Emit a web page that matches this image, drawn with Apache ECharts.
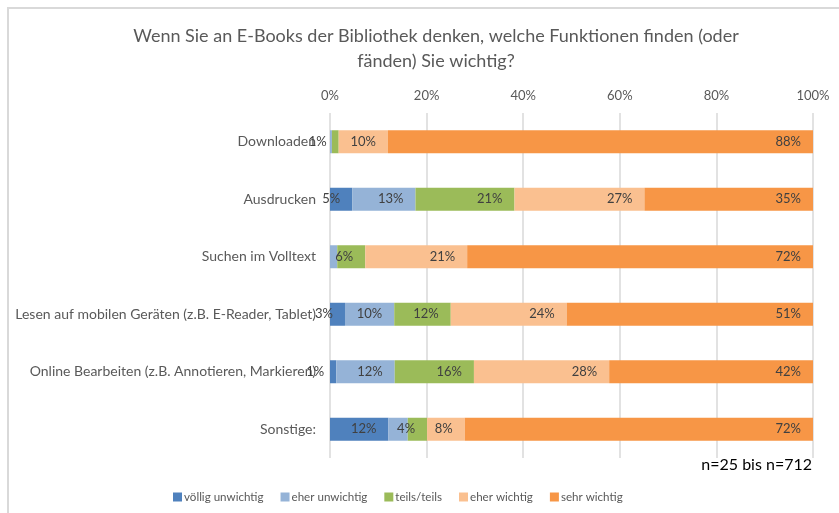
<!DOCTYPE html>
<html>
<head>
<meta charset="utf-8">
<script src="https://cdn.jsdelivr.net/npm/echarts@6/dist/echarts.min.js"></script>
<style>
  html, body { margin: 0; padding: 0; background: #fff; }
  #chart { width: 839px; height: 513px; }
</style>
</head>
<body>
<div id="chart"></div>
<script>
// Kategorien (von oben nach unten)
const categories = [
  'Downloaden',
  'Ausdrucken',
  'Suchen im Volltext',
  'Lesen auf mobilen Geräten (z.B. E-Reader, Tablet)',
  'Online Bearbeiten (z.B. Annotieren, Markieren)',
  'Sonstige:'
];
const seriesNames = ['völlig unwichtig', 'eher unwichtig', 'teils/teils', 'eher wichtig', 'sehr wichtig'];
const colors = ['#4F81BD', '#95B3D7', '#9BBB59', '#FAC090', '#F79646'];

// Anteile in %
const voelligUnwichtig = [0, 4.6, 0, 3.1, 1.3, 12.1];
const eherUnwichtig = [0.4, 13.1, 1.5, 10.2, 12.1, 4.0];
const teilsTeils = [1.4, 20.5, 5.8, 11.7, 16.4, 4.0];
const eherWichtig = [10.2, 26.9, 21.1, 24.0, 28.0, 7.8];
const sehrWichtig = [88.0, 34.9, 71.6, 51.0, 42.2, 72.1];

// welche Beschriftungen sichtbar sind (1 = ja)
const showVoellig = [0, 1, 0, 1, 1, 1];
const showEherUn = [0, 1, 0, 1, 1, 0];
const showTeils = [1, 1, 1, 1, 1, 1];
const showEherW = [1, 1, 1, 1, 1, 1];
const showSehr = [1, 1, 1, 1, 1, 1];

const xTicks = [0, 20, 40, 60, 80, 100];

const allValues = [voelligUnwichtig, eherUnwichtig, teilsTeils, eherWichtig, sehrWichtig];
const allShow = [showVoellig, showEherUn, showTeils, showEherW, showSehr];

const font = 'Lato, "Open Sans", sans-serif';

let myChart = echarts.init(document.getElementById('chart'));

myChart.setOption({
  animation: false,
  color: colors,
  title: {
    text: 'Wenn Sie an E-Books der Bibliothek denken, welche Funktionen finden (oder\nfänden) Sie wichtig?',
    left: 431,
    top: 19,
    textAlign: 'center',
    textStyle: {
      fontFamily: font,
      fontSize: 18,
      fontWeight: 'normal',
      color: '#595959',
      lineHeight: 25
    }
  },
  legend: {
    data: seriesNames,
    left: 168,
    top: 486,
    itemWidth: 9,
    itemHeight: 9,
    itemGap: 17,
    icon: 'rect',
    textStyle: {
      fontFamily: font,
      fontSize: 11.6,
      color: '#595959',
      padding: [0, 0, 0, -3]
    }
  },
  grid: {
    left: 330,
    right: 26,
    top: 113,
    height: 345,
    containLabel: false
  },
  xAxis: {
    type: 'value',
    position: 'top',
    min: xTicks[0],
    max: xTicks[xTicks.length - 1],
    interval: 20,
    axisLine: { show: false },
    axisTick: { show: false },
    axisLabel: {
      formatter: '{value}%',
      margin: 11,
      fontFamily: font,
      fontSize: 13,
      color: '#595959'
    },
    splitLine: {
      show: true,
      lineStyle: { color: '#d9d9d9', width: 1.5 }
    }
  },
  yAxis: {
    type: 'category',
    data: categories,
    inverse: true,
    axisLine: { show: false },
    axisTick: { show: false },
    axisLabel: {
      margin: 14,
      fontFamily: font,
      fontSize: 14,
      color: '#595959'
    }
  },
  graphic: [
    {
      type: 'rect',
      shape: { x: 8, y: 8, width: 900, height: 600 },
      style: { fill: 'none', stroke: '#d9d9d9', lineWidth: 2 },
      silent: true
    },
    {
      type: 'text',
      right: 27,
      top: 457,
      style: {
        text: 'n=25 bis n=712',
        fontFamily: font,
        fontSize: 16,
        fill: '#000'
      }
    }
  ],
  series: seriesNames.map((name, i) => ({
    name: name,
    type: 'bar',
    stack: 'total',
    barWidth: 23,
    itemStyle: { color: colors[i] },
    label: {
      show: true,
      position: 'insideRight',
      distance: 12,
      fontFamily: font,
      fontSize: 13,
      color: '#404040',
      formatter: p => Math.round(p.value) + '%'
    },
    data: allValues[i].map((v, j) => ({
      value: v,
      label: { show: allShow[i][j] === 1 }
    }))
  }))
});
window.onresize = myChart.resize;
</script>
</body>
</html>
